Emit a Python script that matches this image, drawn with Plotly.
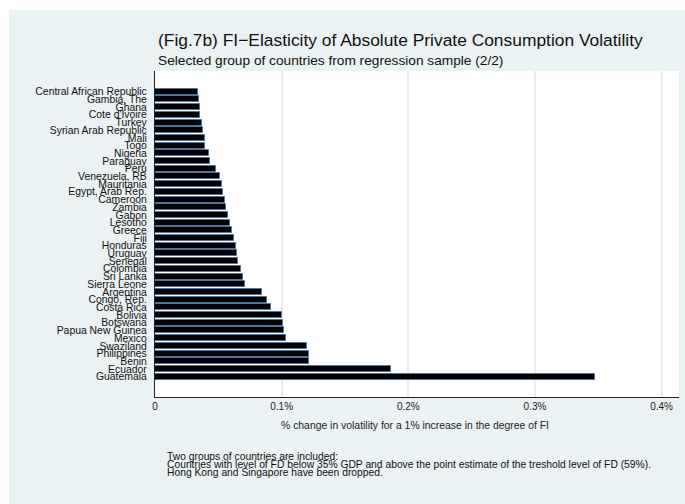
import plotly.graph_objects as go

# Countries listed top to bottom, with their FI-elasticity (in percent)
countries = [
    "Central African Republic", "Gambia, The", "Ghana", "Cote d'Ivoire", "Turkey",
    "Syrian Arab Republic", "Mali", "Togo", "Nigeria", "Paraguay", "Peru",
    "Venezuela, RB", "Mauritania", "Egypt, Arab Rep.", "Cameroon", "Zambia",
    "Gabon", "Lesotho", "Greece", "Fiji", "Honduras", "Uruguay", "Senegal",
    "Colombia", "Sri Lanka", "Sierra Leone", "Argentina", "Congo, Rep.",
    "Costa Rica", "Bolivia", "Botswana", "Papua New Guinea", "Mexico",
    "Swaziland", "Philippines", "Benin", "Ecuador", "Guatemala",
]
elasticity = [
    0.0337, 0.0345, 0.0355, 0.0358, 0.0374,
    0.0379, 0.0395, 0.0397, 0.0424, 0.0432, 0.0484,
    0.0511, 0.0529, 0.0539, 0.0550, 0.0563,
    0.0579, 0.0590, 0.0610, 0.0626, 0.0642, 0.0650, 0.0655,
    0.0679, 0.0692, 0.0711, 0.0845, 0.0887,
    0.0918, 0.1005, 0.1013, 0.1021, 0.1037,
    0.1203, 0.1218, 0.1218, 0.1863, 0.3474,
]

x_ticks = [0, 0.1, 0.2, 0.3, 0.4]
x_tick_labels = ["0", "0.1%", "0.2%", "0.3%", "0.4%"]

title_text = "(Fig.7b) FI\u2212Elasticity of Absolute Private Consumption Volatility"
subtitle_text = "Selected group of countries from regression sample (2/2)"
x_title = "% change in volatility for a 1% increase in the degree of FI"
note_lines = [
    "Two groups of countries are included:",
    "Countries with level of FD below 35% GDP and above the point estimate of the treshold level of FD (59%).",
    "Hong Kong and Singapore have been dropped.",
]

W, H = 685, 504
L, R, T, B = 155, 679, 71, 397  # plot area in pixels
BG = "#EAF2F3"
FONT = "Liberation Sans, Arial, sans-serif"


def px_x(p):
    return (p - L) / (R - L)


def px_y(p):
    return (B - p) / (B - T)


fig = go.Figure()
fig.add_trace(go.Bar(
    x=elasticity,
    y=countries,
    orientation="h",
    width=0.78,
    marker=dict(color="#000000", line=dict(color="#4a76a0", width=1)),
    hoverinfo="x+y",
))

n = len(countries)
fig.update_layout(
    width=W, height=H,
    margin=dict(l=L, r=W - R, t=T, b=H - B, pad=0),
    paper_bgcolor=BG,
    plot_bgcolor="#FFFFFF",
    showlegend=False,
    bargap=0,
    font=dict(family=FONT, color="#111111"),
    xaxis=dict(
        range=[0, (R - L) / 1266.5],
        tickvals=x_ticks,
        ticktext=x_tick_labels,
        tickfont=dict(size=10, color="#222222"),
        ticks="",
        ticklabelstandoff=0,
        showgrid=True,
        gridcolor="#E6EEF0",
        gridwidth=1.5,
        zeroline=False,
        showline=True,
        linecolor="#222222",
        linewidth=1.2,
        fixedrange=True,
    ),
    yaxis=dict(
        type="category",
        categoryorder="array",
        categoryarray=countries,
        tickmode="array",
        tickvals=countries,
        ticktext=countries,
        range=[n - 1 + 2.64, -2.69],
        tickfont=dict(size=10.4, color="#111111"),
        ticks="",
        ticklabelstandoff=5,
        showgrid=False,
        zeroline=False,
        showline=True,
        linecolor="#222222",
        linewidth=1.2,
        fixedrange=True,
    ),
    shapes=[
        # white page strips around the graph region
        dict(type="rect", xref="paper", yref="paper",
             x0=px_x(0), x1=px_x(W), y0=px_y(0), y1=px_y(10),
             fillcolor="#FFFFFF", line=dict(width=0), layer="below"),
        dict(type="rect", xref="paper", yref="paper",
             x0=px_x(0), x1=px_x(9), y0=px_y(0), y1=px_y(H),
             fillcolor="#FFFFFF", line=dict(width=0), layer="below"),
    ],
)

annotations = [
    dict(text=title_text, x=px_x(156), y=px_y(40), xanchor="left", yanchor="middle",
         font=dict(size=17.4, color="#111111")),
    dict(text=subtitle_text, x=px_x(156), y=px_y(61), xanchor="left", yanchor="middle",
         font=dict(size=13.7, color="#111111")),
    dict(text=x_title, x=px_x(415), y=px_y(425), xanchor="center", yanchor="middle",
         font=dict(size=10.4, color="#222222")),
]
for i, line in enumerate(note_lines):
    annotations.append(dict(text=line, x=px_x(165), y=px_y(456 + 8 * i),
                            xanchor="left", yanchor="middle",
                            font=dict(size=10.3, color="#111111")))
for a in annotations:
    a.update(xref="paper", yref="paper", showarrow=False)
fig.update_layout(annotations=annotations)

fig.write_html("out.html")
